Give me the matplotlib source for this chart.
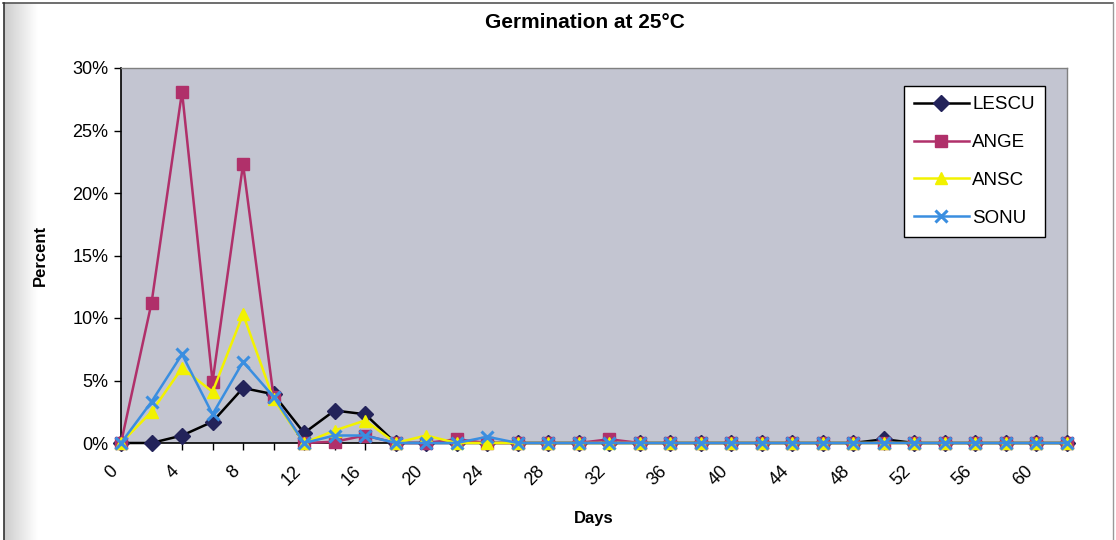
import matplotlib
matplotlib.use("Agg")
import matplotlib.pyplot as plt
import matplotlib.transforms as mtransforms
from matplotlib.lines import Line2D
import numpy as np

plt.rcParams['font.family'] = ['Liberation Sans', 'DejaVu Sans']

# Sampling days (every 2 days, 0..62); tick labels every 4 days
days = [2 * i for i in range(32)]
tick_labels = [str(d) if i % 2 == 0 else "" for i, d in enumerate(days)]

# Germination (%) per sampling day
lescu = [0, 0, 0.6, 1.7, 4.4, 3.9, 0.8, 2.6, 2.3, 0,
         0, 0, 0, 0, 0, 0, 0, 0, 0, 0,
         0, 0, 0, 0, 0, 0.3, 0, 0, 0, 0,
         0, 0]
ange = [0, 11.2, 28.1, 4.9, 22.3, 3.7, 0, 0.1, 0.6, 0,
        0, 0.3, 0, 0, 0, 0, 0.3, 0, 0, 0,
        0, 0, 0, 0, 0, 0, 0, 0, 0, 0,
        0, 0]
ansc = [0, 2.5, 6.0, 4.1, 10.3, 3.5, 0, 1.0, 1.8, 0,
        0.6, 0, 0, 0, 0, 0, 0, 0, 0, 0,
        0, 0, 0, 0, 0, 0, 0, 0, 0, 0,
        0, 0]
sonu = [0, 3.3, 7.1, 2.3, 6.5, 3.7, 0, 0.6, 0.6, 0,
        0, 0, 0.5, 0, 0, 0, 0, 0, 0, 0,
        0, 0, 0, 0, 0, 0, 0, 0, 0, 0,
        0, 0]

series = [
    ("LESCU", lescu, "black", "D", "#23235a"),
    ("ANGE", ange, "#b0306a", "s", "#b0306a"),
    ("ANSC", ansc, "#f2f200", "^", "#f2f200"),
    ("SONU", sonu, "#3a8ee0", "x", "#3a8ee0"),
]

W, H = 1116, 540
fig = plt.figure(figsize=(W / 100, H / 100), dpi=100)

# soft grey shading along the left edge of the chart area
grad = np.linspace(0.80, 1.0, 64)[None, :]
gax = fig.add_axes([4 / W, 0, 34 / W, 1 - 3 / H])
gax.imshow(grad, cmap="gray", vmin=0, vmax=1, aspect="auto",
           extent=[0, 1, 0, 1])
gax.axis("off")

ax = fig.add_axes([121 / W, 1 - 443 / H, (1067 - 121) / W, (443 - 68) / H])
ax.set_facecolor("#c3c5d1")

x = np.arange(len(days))
for name, vals, lc, mk, mc in series:
    ax.plot(x, vals, color=lc, lw=1.8, marker=mk, markersize=8,
            markerfacecolor=mc, markeredgecolor=mc,
            markeredgewidth=2.2 if mk == "x" else 1, label=name, zorder=3,
            clip_on=False)

ax.set_xlim(0, len(days) - 1)
ax.set_ylim(0, 30)
ax.set_yticks(np.arange(0, 31, 5))
ax.set_yticklabels([f"{v}%" for v in range(0, 31, 5)], fontsize=13)
ax.set_xticks(x)
ax.set_xticklabels(tick_labels, fontsize=13, rotation=45, ha="right",
                   va="top", rotation_mode="anchor")
ax.tick_params(axis="x", direction="out", length=5, width=1, pad=6)
ax.tick_params(axis="y", direction="out", length=5, width=1, pad=4)

shift = mtransforms.ScaledTranslation(-12 / 100, -4 / 100, fig.dpi_scale_trans)
for lab in ax.get_xticklabels():
    lab.set_transform(lab.get_transform() + shift)

for side in ("top", "right"):
    ax.spines[side].set_color("#808080")
    ax.spines[side].set_linewidth(1)
for side in ("left", "bottom"):
    ax.spines[side].set_color("black")
    ax.spines[side].set_linewidth(1.2)

ax.set_xlabel("Days", fontsize=12, fontweight="bold", labelpad=16)
ax.set_ylabel("Percent", fontsize=12, fontweight="bold", labelpad=18)

fig.text(585 / W, 1 - 22 / H, "Germination at 25°C", fontsize=15,
         fontweight="bold", ha="center", va="center")

leg = ax.legend(loc="upper left",
                bbox_to_anchor=((904 - 121) / (1067 - 121), 1 - (86 - 68) / (443 - 68)),
                fontsize=13.5, frameon=True, fancybox=False, edgecolor="black",
                facecolor="white", framealpha=1, handlelength=2.9,
                handletextpad=0.2, labelspacing=1.1, borderpad=0.55,
                borderaxespad=0)
leg.get_frame().set_linewidth(1)

# Chart-area frame
fig.add_artist(Line2D([3 / W, 1113 / W], [1 - 3 / H, 1 - 3 / H], color="#555555", lw=1.2))
fig.add_artist(Line2D([4 / W, 4 / W], [0, 1 - 3 / H], color="#333333", lw=1.2))
fig.add_artist(Line2D([1113 / W, 1113 / W], [0, 1 - 3 / H], color="#999999", lw=1))

fig.savefig("out.png", dpi=100)
